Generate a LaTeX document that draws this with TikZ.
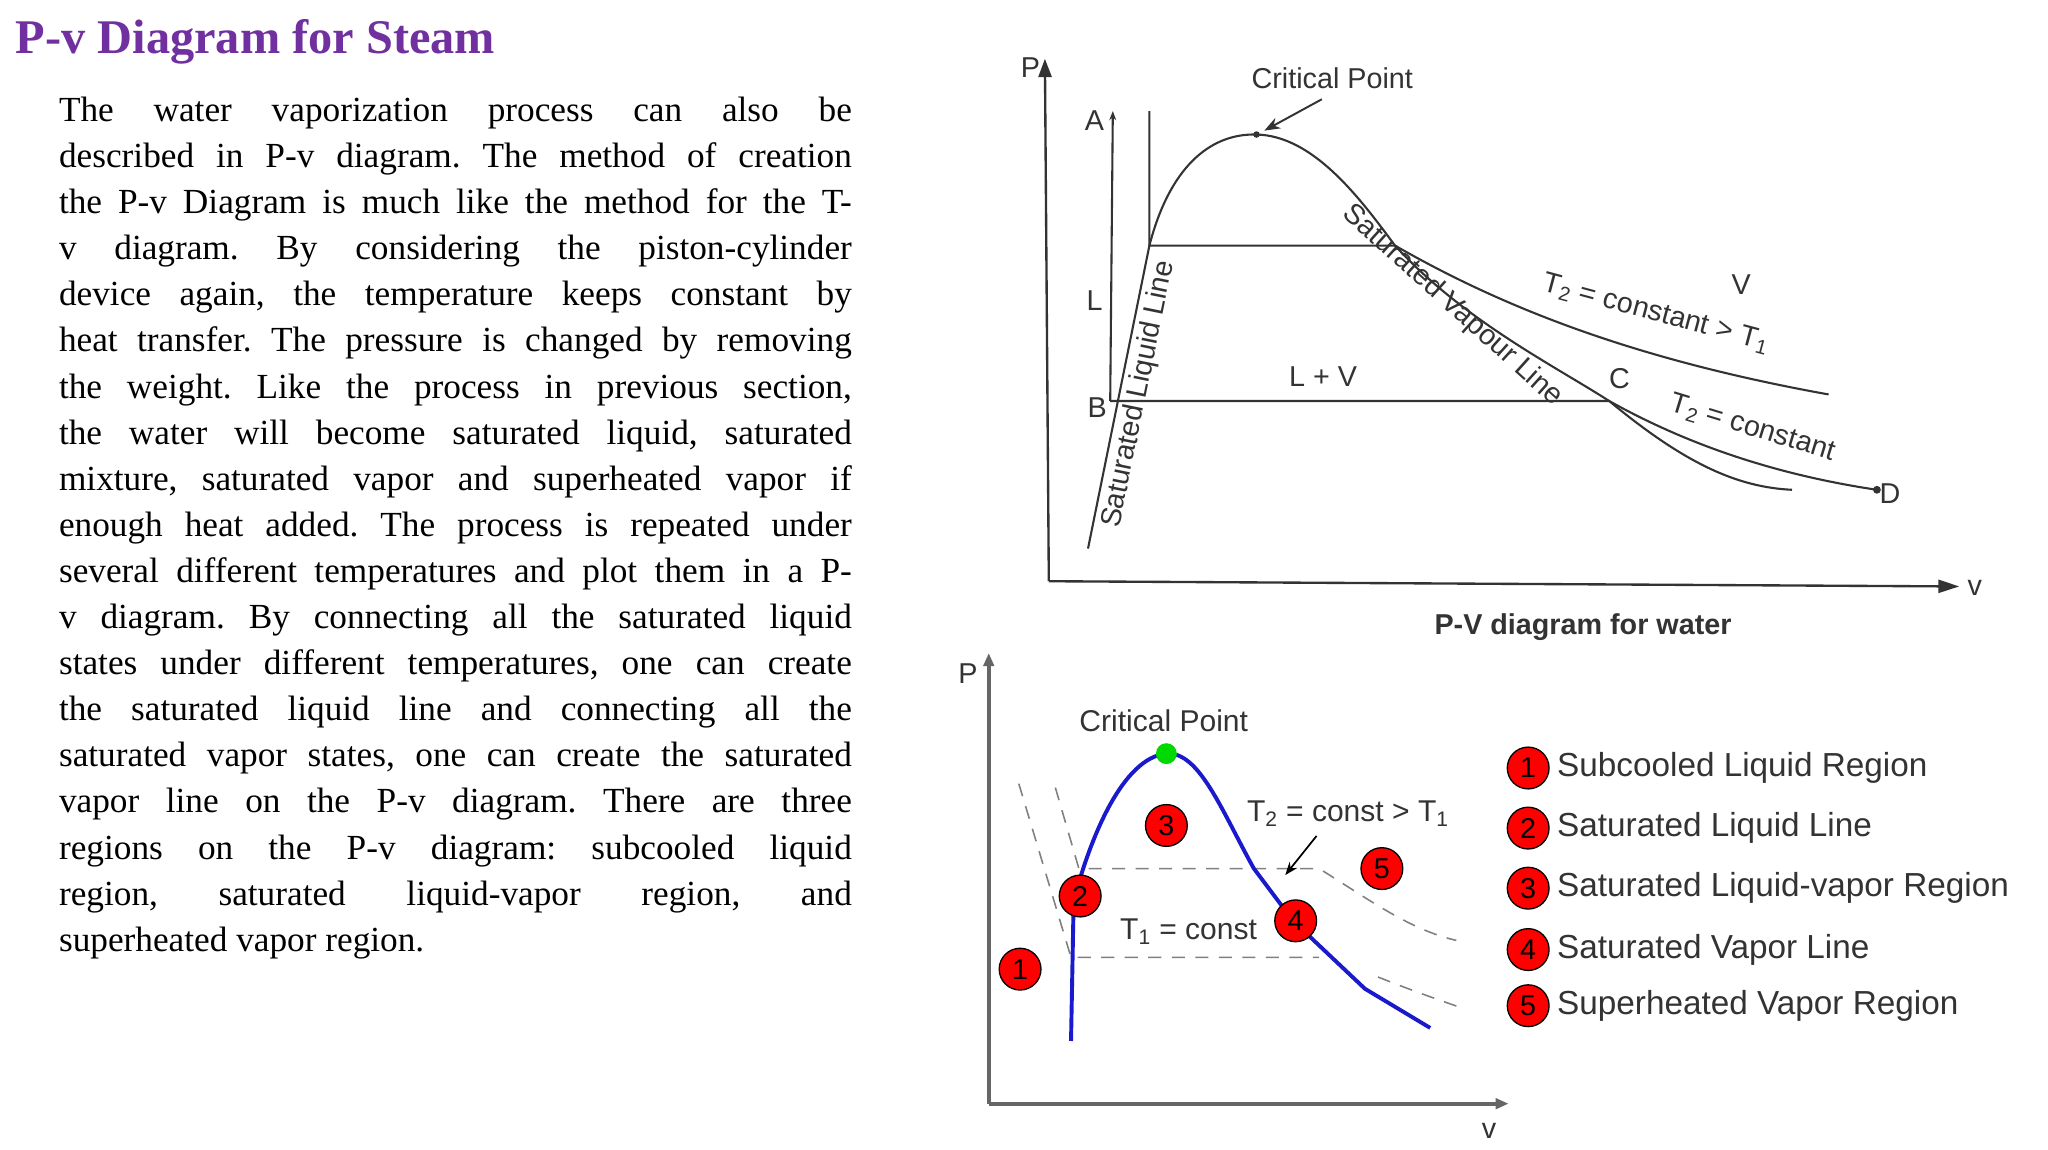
\documentclass[tikz,border=0pt]{standalone}
\usepackage{fontspec}
\setmainfont{Liberation Serif}
\newfontfamily\lsans{Liberation Sans}
\usetikzlibrary{arrows.meta}
\definecolor{ttl}{HTML}{7030A0}
\definecolor{ink}{HTML}{333333}
\definecolor{bl}{HTML}{1A1ACC}
\newcommand{\sub}[1]{\textsubscript{#1}}
\tikzset{
  lab/.style={font=\lsans\fontsize{22}{24}\selectfont, text=ink, inner sep=0pt},
  curve/.style={draw=ink, line width=1.6pt},
  dsh/.style={draw=gray, line width=1.2pt, dash pattern=on 10pt off 8pt},
  num/.style={circle, fill=red, draw=black, line width=1pt, minimum size=32pt, inner sep=0pt, font=\lsans\fontsize{22}{24}\selectfont},
  blue curve/.style={draw=bl, line width=3pt},
}
\begin{document}
\frenchspacing
\begin{tikzpicture}[x=1pt,y=-1pt]
\useasboundingbox (0,0) rectangle (1568,880);
\fill[white] (0,0) rectangle (1568,880);
% title
\node[anchor=west, text=ttl, font=\bfseries\fontsize{37}{40}\selectfont, inner sep=0pt] (title) at (12,32) {P-v Diagram for Steam};
% body
\node[anchor=north west, inner sep=0pt, text width=607pt, align=justify, font=\fontsize{27}{35.3}\selectfont] (body) at (45,74) {%
The water vaporization process can also be\linebreak
described in P-v diagram. The method of creation\linebreak
the P-v Diagram is much like the method for the T-\linebreak
v diagram. By considering the piston-cylinder\linebreak
device again, the temperature keeps constant by\linebreak
heat transfer. The pressure is changed by removing\linebreak
the weight. Like the process in previous section,\linebreak
the water will become saturated liquid, saturated\linebreak
mixture, saturated vapor and superheated vapor if\linebreak
enough heat added. The process is repeated under\linebreak
several different temperatures and plot them in a P-\linebreak
v diagram. By connecting all the saturated liquid\linebreak
states under different temperatures, one can create\linebreak
the saturated liquid line and connecting all the\linebreak
saturated vapor states, one can create the saturated\linebreak
vapor line on the P-v diagram. There are three\linebreak
regions on the P-v diagram: subcooled liquid\linebreak
region, saturated liquid-vapor region, and\linebreak
superheated vapor region.\par};

% ===== top diagram =====
\coordinate (O1) at (803,445);
\coordinate (Ptop) at (800,45);
\coordinate (Vend) at (1500,449);
\draw[ink, line width=1.8pt, -{Triangle[length=14pt,width=10pt]}] (O1) -- (Ptop);
\draw[ink, line width=1.8pt, -{Triangle[length=16pt,width=10pt]}] (O1) -- (Vend);
\node[lab] (pl1) at (789,52) {P};
\node[lab] (vl1) at (1512,450) {v};
% curves
\coordinate (sl0) at (833,420);
\coordinate (sl1) at (880,188);
\coordinate (cp1) at (962,103);
\coordinate (sv1) at (1068,188);
\coordinate (svC) at (1232,307);
\coordinate (sv2) at (1372,375);
\draw[curve] (sl0) -- (sl1) .. controls (895,130) and (925,102) .. (cp1)
  .. controls (1005,104) and (1040,150) .. (sv1)
  .. controls (1120,245) and (1190,280) .. (svC)
  .. controls (1290,355) and (1330,373) .. (sv2);
\fill[ink] (cp1) circle (2.5pt);
\draw[curve] (880,85) -- (sl1) -- (sv1) .. controls (1150,235) and (1250,275) .. (1400,302);
\coordinate (A) at (852,85);
\coordinate (B) at (850,307);
\coordinate (D) at (1437,375);
\draw[curve, {Stealth[length=7pt]}-] (A) -- (B);
\draw[curve] (B) -- (svC) .. controls (1300,345) and (1370,365) .. (D);
\fill[ink] (D) circle (3pt);
\node[lab] (Al) at (838,92) {A};
\node[lab] (Bl) at (840,312) {B};
\node[lab] (Ll) at (838,230) {L};
\node[lab] (LVl) at (1013,288) {L + V};
\node[lab] (Cl) at (1240,290) {C};
\node[lab] (Dl) at (1447,378) {D};
\node[lab] (Vl) at (1333,218) {V};
\node[lab] (cpl1) at (1020,60) {Critical Point};
\draw[ink, line width=1.5pt, -{Stealth[length=12pt]}] (1012,76) -- (968,100);
\node[lab, rotate=78.5] (sll) at (872,302) {Saturated Liquid Line};
\node[lab, rotate=-42] (svl) at (1112,234) {Saturated Vapour Line};
\node[lab, rotate=-15] (t2a) at (1268,240) {T\sub{2} = constant > T\sub{1}};
\node[lab, rotate=-17] (t2b) at (1342,328) {T\sub{2} = constant};
\node[lab, font=\lsans\bfseries\fontsize{22}{24}\selectfont] (cap1) at (1212,480) {P-V diagram for water};

% ===== bottom diagram =====
\coordinate (O2) at (757,845);
\draw[gray!80!black, line width=3pt, -{Triangle[length=10pt,width=8pt]}] (O2) -- (757,500);
\draw[gray!80!black, line width=3pt, -{Triangle[length=10pt,width=8pt]}] (O2) -- (1155,845);
\node[lab] (pl2) at (741,516) {P};
\node[lab] (vl2) at (1140,866) {v};
% dashed isotherms
\draw[dsh] (808,603) -- (826,665) -- (1010,665) .. controls (1050,690) and (1080,712) .. (1115,720);
\draw[dsh] (780,600) -- (820,733) -- (1010,733);
\draw[dsh] (1055,748) .. controls (1080,758) and (1100,765) .. (1120,772);
% blue curve
\coordinate (cp2) at (893,577);
\draw[blue curve] (820,797) -- (822,690) .. controls (835,640) and (860,580) .. (cp2)
  .. controls (918,575) and (935,620) .. (960,665) -- (990,705) -- (1045,757) -- (1095,787);
\fill[green!85!black] (cp2) circle (8pt);
\node[lab, font=\lsans\fontsize{23}{24}\selectfont] (cpl2) at (891,552) {Critical Point};
\node[lab, font=\lsans\fontsize{23}{24}\selectfont] (t2c) at (1032,623) {T\sub{2} = const > T\sub{1}};
\node[lab, font=\lsans\fontsize{23}{24}\selectfont] (t1c) at (910,713) {T\sub{1} = const};
\draw[black, line width=1.3pt, -{Stealth[length=10pt]}] (1008,640) -- (984,670);
\node[num] (n1) at (781,742) {1};
\node[num] (n2) at (827,686) {2};
\node[num] (n3) at (893,632) {3};
\node[num] (n4) at (992,705) {4};
\node[num] (n5) at (1058,665) {5};
% legend
\foreach \i/\y/\t in {1/588/Subcooled Liquid Region,2/634/Saturated Liquid Line,3/680/Saturated Liquid-vapor Region,4/727/Saturated Vapor Line,5/770/Superheated Vapor Region}{
  \node[num] (L\i) at (1170,\y) {\i};
  \node[lab, anchor=west, font=\lsans\fontsize{25.5}{27}\selectfont] (LT\i) at (1192,\y) {\t};
}
\end{tikzpicture}
\end{document}
